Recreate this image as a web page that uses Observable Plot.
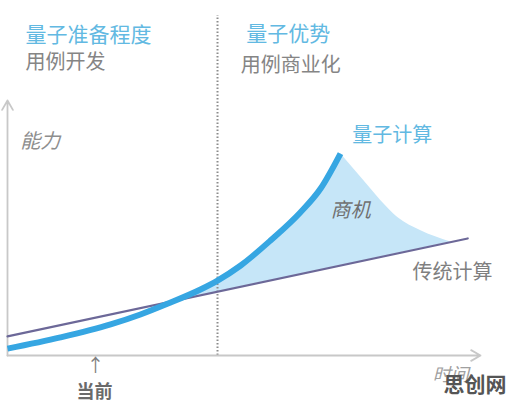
<!DOCTYPE html>
<html><head><meta charset="utf-8">
<script src="https://cdn.jsdelivr.net/npm/d3@7"></script>
<script src="https://cdn.jsdelivr.net/npm/@observablehq/plot@0.6"></script>
<style>
body{margin:0;background:#fff;}
svg{overflow:visible;font-family:"Noto Sans CJK SC","Noto Sans",sans-serif;}
</style></head><body>
<div id="chart"></div>
<script>
// Quantum computing capability curve (time, capability)
const quantumT = [0, 11.2, 21.8, 28.1, 33.8, 40.8, 44.4, 49.3, 55.6, 61.9, 66.2, 70.4];
const quantumV = [2.7, 7.1, 12.2, 16.1, 20.3, 25.9, 29.4, 35.3, 45.1, 56.1, 65.5, 79.2];
// Classical computing (straight line)
const classicT = [0, 97.3];
const classicV = [7.5, 45.9];
// Opportunity zone: left part under the quantum curve, above the classical line
const zoneLeftT = [34.5, 40.8, 44.4, 49.3, 55.6, 61.9, 66.2, 70.4];
const zoneLeftTop = [21.1, 25.9, 29.4, 35.3, 45.1, 56.1, 65.5, 79.2];
const zoneLeftBase = [21.1, 23.6, 25.0, 27.0, 29.4, 31.9, 33.6, 35.3];
// Opportunity zone: right part, from quantum peak falling down to the classical line
const zoneRightT = [70.4, 75.3, 78.9, 82.5, 87.3, 93.7];
const zoneRightTop = [79.2, 68.6, 60.8, 54.1, 49.0, 44.5];
const zoneRightBase = [35.3, 37.2, 38.6, 40.1, 42.0, 44.5];
// Divider between the two phases
const dividerT = 44.4;
const dividerTop = 133.3;

const labels = [
  {t: 3.8, v: 125.5, text: "量子准备程度", color: "#62b9e2", size: 21, style: "normal", weight: 400, anchor: "start"},
  {t: 3.8, v: 114.9, text: "用例开发", color: "#858585", size: 20, style: "normal", weight: 400, anchor: "start"},
  {t: 50.5, v: 125.9, text: "量子优势", color: "#62b9e2", size: 21, style: "normal", weight: 400, anchor: "start"},
  {t: 49.3, v: 113.7, text: "用例商业化", color: "#858585", size: 20, style: "normal", weight: 400, anchor: "start"},
  {t: 2.7, v: 83.9, text: "能力", color: "#8e8e8e", size: 20, style: "italic", weight: 400, anchor: "start"},
  {t: 72.9, v: 86.3, text: "量子计算", color: "#62b9e2", size: 20, style: "normal", weight: 400, anchor: "start"},
  {t: 68.3, v: 56.9, text: "商机", color: "#707070", size: 20, style: "italic", weight: 400, anchor: "start"},
  {t: 85.6, v: 32.5, text: "传统计算", color: "#808080", size: 20, style: "normal", weight: 400, anchor: "start"},
  {t: 18.6, v: -4.3, text: "↑", color: "#808080", size: 18, style: "normal", weight: 400, anchor: "middle"},
  {t: 18.4, v: -14.5, text: "当前", color: "#6a6a6a", size: 18, style: "normal", weight: 700, anchor: "middle"},
  {t: 89.9, v: -7.8, text: "时间", color: "#a0a0a0", size: 18, style: "italic", weight: 400, anchor: "start"},
  {t: 92.2, v: -11.8, text: "思创网", color: "#555555", size: 21, style: "normal", weight: 700, anchor: "start"}
];

const quantum = quantumT.map((t, i) => ({t, v: quantumV[i]}));
const classic = classicT.map((t, i) => ({t, v: classicV[i]}));
const zoneLeft = zoneLeftT.map((t, i) => ({t, top: zoneLeftTop[i], base: zoneLeftBase[i]}));
const zoneRight = zoneRightT.map((t, i) => ({t, top: zoneRightTop[i], base: zoneRightBase[i]}));

const chart = Plot.plot({
  width: 511, height: 404,
  marginLeft: 7, marginRight: 31, marginTop: 100, marginBottom: 49,
  x: {domain: [0, 100], axis: null},
  y: {domain: [0, 100], axis: null},
  marks: [
    Plot.areaY(zoneLeft, {x: "t", y1: "base", y2: "top", curve: "monotone-x", fill: "#c6e6f8"}),
    Plot.areaY(zoneRight, {x: "t", y1: "base", y2: "top", curve: "monotone-x", fill: "#c6e6f8"}),
    Plot.ruleX([dividerT], {y1: 0, y2: dividerTop, stroke: "#8c8c8c", strokeWidth: 2, strokeDasharray: "1.5,2"}),
    Plot.arrow([{x1: 0, y1: 0, x2: 0, y2: 100}], {x1: "x1", y1: "y1", x2: "x2", y2: "y2", stroke: "#c8c8c8", strokeWidth: 1.8, headLength: 9}),
    Plot.arrow([{x1: 0, y1: 0, x2: 100, y2: 0}], {x1: "x1", y1: "y1", x2: "x2", y2: "y2", stroke: "#c8c8c8", strokeWidth: 1.8, headLength: 9}),
    Plot.line(classic, {x: "t", y: "v", stroke: "#6c6898", strokeWidth: 2.2}),
    Plot.line(quantum, {x: "t", y: "v", curve: "monotone-x", stroke: "#36a6e2", strokeWidth: 6, strokeLinecap: "butt"}),
    ...labels.map(d => Plot.text([d], {x: "t", y: "v", text: "text", fill: d.color, fontSize: d.size, fontStyle: d.style, fontWeight: d.weight, textAnchor: d.anchor}))
  ]
});
document.getElementById("chart").append(chart);
</script>
</body></html>
